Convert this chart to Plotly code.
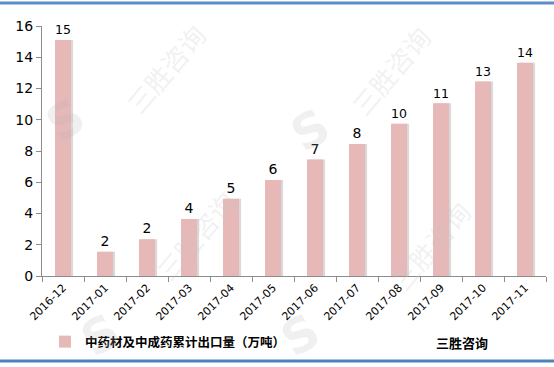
import plotly.graph_objects as go

categories = ["2016-12", "2017-01", "2017-02", "2017-03", "2017-04", "2017-05",
              "2017-06", "2017-07", "2017-08", "2017-09", "2017-10", "2017-11"]
values = [15.1, 1.55, 2.35, 3.65, 4.95, 6.15, 7.45, 8.45, 9.75, 11.05, 12.45, 13.65]
labels = ["15", "2", "2", "4", "5", "6", "7", "8", "10", "11", "13", "14"]
series_name = "<b>中药材及中成药累计出口量（万吨）</b>"
y_ticks = [0, 2, 4, 6, 8, 10, 12, 14, 16]

W, H = 554, 367
L, R, T, B = 42, 8, 26, 91
pw, ph = W - L - R, H - T - B

def px(x):
    return (x - L) / pw

def py(y):
    return (H - B - y) / ph

fig = go.Figure()
# shadow
fig.add_trace(go.Bar(
    x=categories, y=values, width=0.38, offset=-0.19 + 0.05,
    marker=dict(color="#d9d9d9", line=dict(width=0)),
    showlegend=False, hoverinfo="skip"))
fig.add_trace(go.Bar(
    x=categories, y=values, width=0.38, offset=-0.19,
    name=series_name,
    marker=dict(color="#E6B8B7", line=dict(width=0)),
    text=labels, textposition="outside", cliponaxis=False,
    textfont=dict(size=14, color="#000000", family="DejaVu Sans")))

fig.update_layout(
    width=W, height=H,
    margin=dict(l=L, r=R, t=T, b=B),
    paper_bgcolor="white", plot_bgcolor="white",
    barmode="overlay",
    font=dict(family="Noto Sans CJK SC", color="#000000"),
    showlegend=True,
    legend=dict(orientation="h", x=px(45), y=py(342), xanchor="left", yanchor="middle",
                font=dict(size=12.5, family="Noto Sans CJK SC", color="#000"),
                bgcolor="rgba(0,0,0,0)", itemwidth=30),
    xaxis=dict(
        type="category", showgrid=False, showline=True, linecolor="#8c8c8c",
        ticks="outside", tickson="boundaries", ticklen=5, tickcolor="#8c8c8c",
        tickangle=-45, tickfont=dict(size=11, family="DejaVu Sans", color="#000")),
    yaxis=dict(
        range=[0, 16], tickvals=y_ticks, showgrid=False, showline=True,
        linecolor="#8c8c8c", ticks="outside", ticklen=5, tickcolor="#8c8c8c",
        tickfont=dict(size=14, family="DejaVu Sans", color="#000"), zeroline=False),
)

shapes = [
    dict(type="line", xref="paper", yref="paper", x0=px(0), x1=px(W), y0=py(3), y1=py(3),
         line=dict(color="#5B8DC9", width=3)),
    dict(type="line", xref="paper", yref="paper", x0=px(0), x1=px(W), y0=py(361), y1=py(361),
         line=dict(color="#4F81BD", width=3)),
]
fig.update_layout(shapes=shapes)

annotations = [
    dict(text="<b>三胜咨询</b>", x=px(462), y=py(342), xref="paper", yref="paper",
         xanchor="center", yanchor="middle",
         showarrow=False, font=dict(size=13, color="#000", family="Noto Sans CJK SC")),
]
wm = [(165, 68), (390, 70), (195, 235), (430, 245)]
for (x, y) in wm:
    annotations.append(dict(text="三胜咨询", x=px(x), y=py(y), xref="paper", yref="paper",
                            xanchor="center", yanchor="middle",
                            showarrow=False, textangle=-50,
                            font=dict(size=26, color="rgba(200,200,200,0.25)",
                                      family="Noto Sans CJK SC")))
sm = [(65, 120), (310, 130), (100, 335), (300, 335)]
for (x, y) in sm:
    annotations.append(dict(text="<b>S</b>", x=px(x), y=py(y), xref="paper", yref="paper",
                            xanchor="center", yanchor="middle",
                            showarrow=False, textangle=-30,
                            font=dict(size=48, color="rgba(180,180,180,0.2)",
                                      family="DejaVu Sans")))
fig.update_layout(annotations=annotations)

fig.write_html("out.html")
